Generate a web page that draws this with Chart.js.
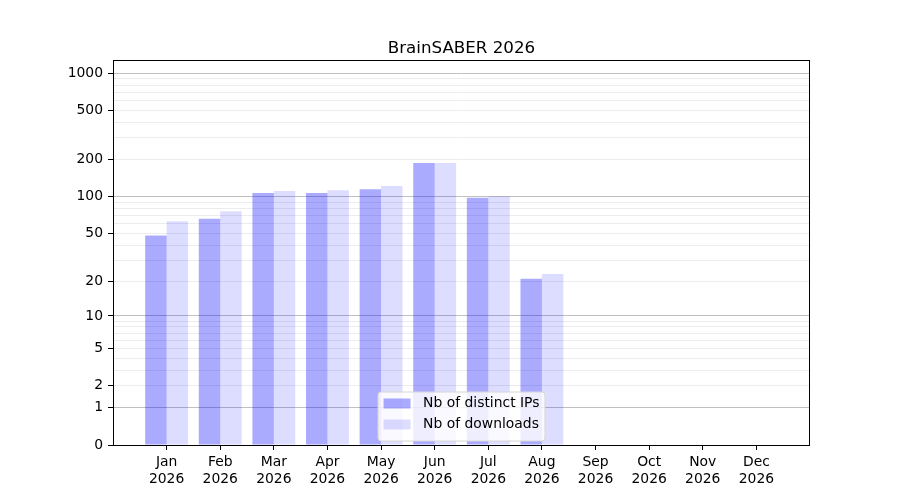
<!DOCTYPE html>
<html>
<head>
<meta charset="utf-8">
<title>BrainSABER 2026</title>
<script src="https://cdn.jsdelivr.net/npm/chart.js@4.4.1/dist/chart.umd.min.js"></script>
<style>
  html, body { margin: 0; padding: 0; background: #fff; }
  #wrap { width: 900px; height: 500px; }
</style>
</head>
<body>
<div id="wrap"><canvas id="chart" width="900" height="500"></canvas></div>
<script>
// Monthly stats
const months = ['Jan', 'Feb', 'Mar', 'Apr', 'May', 'Jun', 'Jul', 'Aug', 'Sep', 'Oct', 'Nov', 'Dec'];
const year = '2026';
const distinctIps = [48, 66, 107, 107, 115, 188, 98, 21, 0, 0, 0, 0];
const downloads = [63, 76, 111, 113, 122, 188, 101, 23, 0, 0, 0, 0];

// y axis: labelled ticks, darker decade lines, light minor lines
const yTickLabels = [0, 1, 2, 5, 10, 20, 50, 100, 200, 500, 1000];
const yMajorGrid = [1, 10, 100, 1000];
const yMinorGrid = [2, 3, 4, 5, 6, 7, 8, 9, 20, 30, 40, 50, 60, 70, 80, 90,
                    200, 300, 400, 500, 600, 700, 800, 900];
const yMax = 1280;
const titleText = 'BrainSABER 2026';

const colors = {
    ips: 'rgba(0, 0, 255, 0.333)',
    downloads: 'rgba(0, 0, 255, 0.133)',
    major: '#c0c0c0',
    minor: '#ececec',
    text: '#000'
};
const FONT = "'DejaVu Sans', sans-serif";

Chart.defaults.font.family = FONT;
Chart.defaults.color = colors.text;

// log10(1 + x) axis, like matplotlib's function scale
const f = v => Math.log10(1 + Math.max(v, 0));
class Log1pScale extends Chart.LinearScale {
    getPixelForValue(value) {
        const a = f(this.min), b = f(this.max);
        return this.getPixelForDecimal((f(value) - a) / (b - a));
    }
    getValueForPixel(pixel) {
        const a = f(this.min), b = f(this.max);
        return Math.pow(10, a + this.getDecimalForPixel(pixel) * (b - a)) - 1;
    }
}
Log1pScale.id = 'log1p';
Log1pScale.defaults = {};
Chart.register(Log1pScale);

const allYTicks = Array.from(new Set([0, ...yMajorGrid, ...yMinorGrid])).sort((a, b) => a - b);

// title over the axes, frame around the plot, legend box at lower centre
const framePlugin = {
    id: 'frameAndLegend',
    afterDraw(chart) {
        const { ctx, chartArea: ca } = chart;
        ctx.save();

        ctx.fillStyle = colors.text;
        ctx.font = '16.7px ' + FONT;
        ctx.textAlign = 'center';
        ctx.textBaseline = 'alphabetic';
        ctx.fillText(titleText, (ca.left + ca.right) / 2, ca.top - 7.5);

        ctx.strokeStyle = '#000';
        ctx.lineWidth = 1;
        ctx.strokeRect(Math.round(ca.left) + 0.5, Math.round(ca.top) + 0.5,
            Math.round(ca.right - ca.left) - 1, Math.round(ca.bottom - ca.top));

        const fontSize = 13.9;
        ctx.font = fontSize + 'px ' + FONT;
        const items = chart.data.datasets.map(ds => ({ label: ds.label, color: ds.backgroundColor }));
        const textW = Math.max(...items.map(it => ctx.measureText(it.label).width));
        const padL = 5.5, patchW = 27, gap = 12.5, padR = 5.5;
        const rowH = 21, padT = 5;
        const w = padL + patchW + gap + textW + padR;
        const h = padT * 2 + rowH * items.length - 3;
        const x = (ca.left + ca.right) / 2 - w / 2;
        const y = ca.bottom - 4 - h;

        ctx.beginPath();
        ctx.roundRect(x, y, w, h, 3);
        ctx.fillStyle = 'rgba(255, 255, 255, 0.8)';
        ctx.fill();
        ctx.strokeStyle = '#d6d6d6';
        ctx.stroke();

        items.forEach((it, i) => {
            const cy = y + padT + rowH * i + 6.5;
            ctx.fillStyle = it.color;
            ctx.fillRect(x + padL, cy - 5, patchW, 10);
            ctx.fillStyle = colors.text;
            ctx.textBaseline = 'middle';
            ctx.textAlign = 'left';
            ctx.fillText(it.label, x + padL + patchW + gap, cy);
        });
        ctx.restore();
    }
};

new Chart(document.getElementById('chart'), {
    type: 'bar',
    data: {
        datasets: [{
            label: 'Nb of distinct IPs',
            data: distinctIps.map((v, i) => ({ x: i, y: v })),
            backgroundColor: colors.ips,
            borderWidth: 0
        }, {
            label: 'Nb of downloads',
            data: downloads.map((v, i) => ({ x: i, y: v })),
            backgroundColor: colors.downloads,
            borderWidth: 0
        }]
    },
    options: {
        responsive: false,
        animation: false,
        devicePixelRatio: 1,
        layout: { padding: { left: 0, right: 90, top: 60, bottom: 0 } },
        datasets: { bar: { barPercentage: 1, categoryPercentage: 0.8 } },
        plugins: {
            legend: { display: false },
            tooltip: { enabled: false },
            title: { display: false }
        },
        scales: {
            x: {
                type: 'linear',
                min: -1,
                max: 12,
                offset: false,
                afterBuildTicks: scale => { scale.ticks = months.map((m, i) => ({ value: i })); },
                afterFit: scale => { scale.height = 55; },
                ticks: {
                    autoSkip: false,
                    maxRotation: 0,
                    padding: 4,
                    font: { size: 13.9 },
                    callback: v => [months[v], year]
                },
                grid: { offset: false, drawOnChartArea: false, tickLength: 5, tickColor: '#000' },
                border: { display: false }
            },
            y: {
                type: 'log1p',
                min: 0,
                max: yMax,
                afterBuildTicks: scale => { scale.ticks = allYTicks.map(v => ({ value: v })); },
                afterFit: scale => { scale.width = 113; },
                ticks: {
                    autoSkip: false,
                    padding: 5,
                    font: { size: 13.9 },
                    callback: v => yTickLabels.includes(v) ? String(v) : ''
                },
                grid: {
                    tickLength: 5,
                    color: c => yMajorGrid.includes(c.tick.value) ? colors.major
                        : (c.tick.value === 0 ? 'transparent' : colors.minor),
                    tickColor: c => yTickLabels.includes(c.tick.value) ? '#000' : 'transparent'
                },
                border: { display: false }
            }
        }
    },
    plugins: [framePlugin]
});
</script>
</body>
</html>
